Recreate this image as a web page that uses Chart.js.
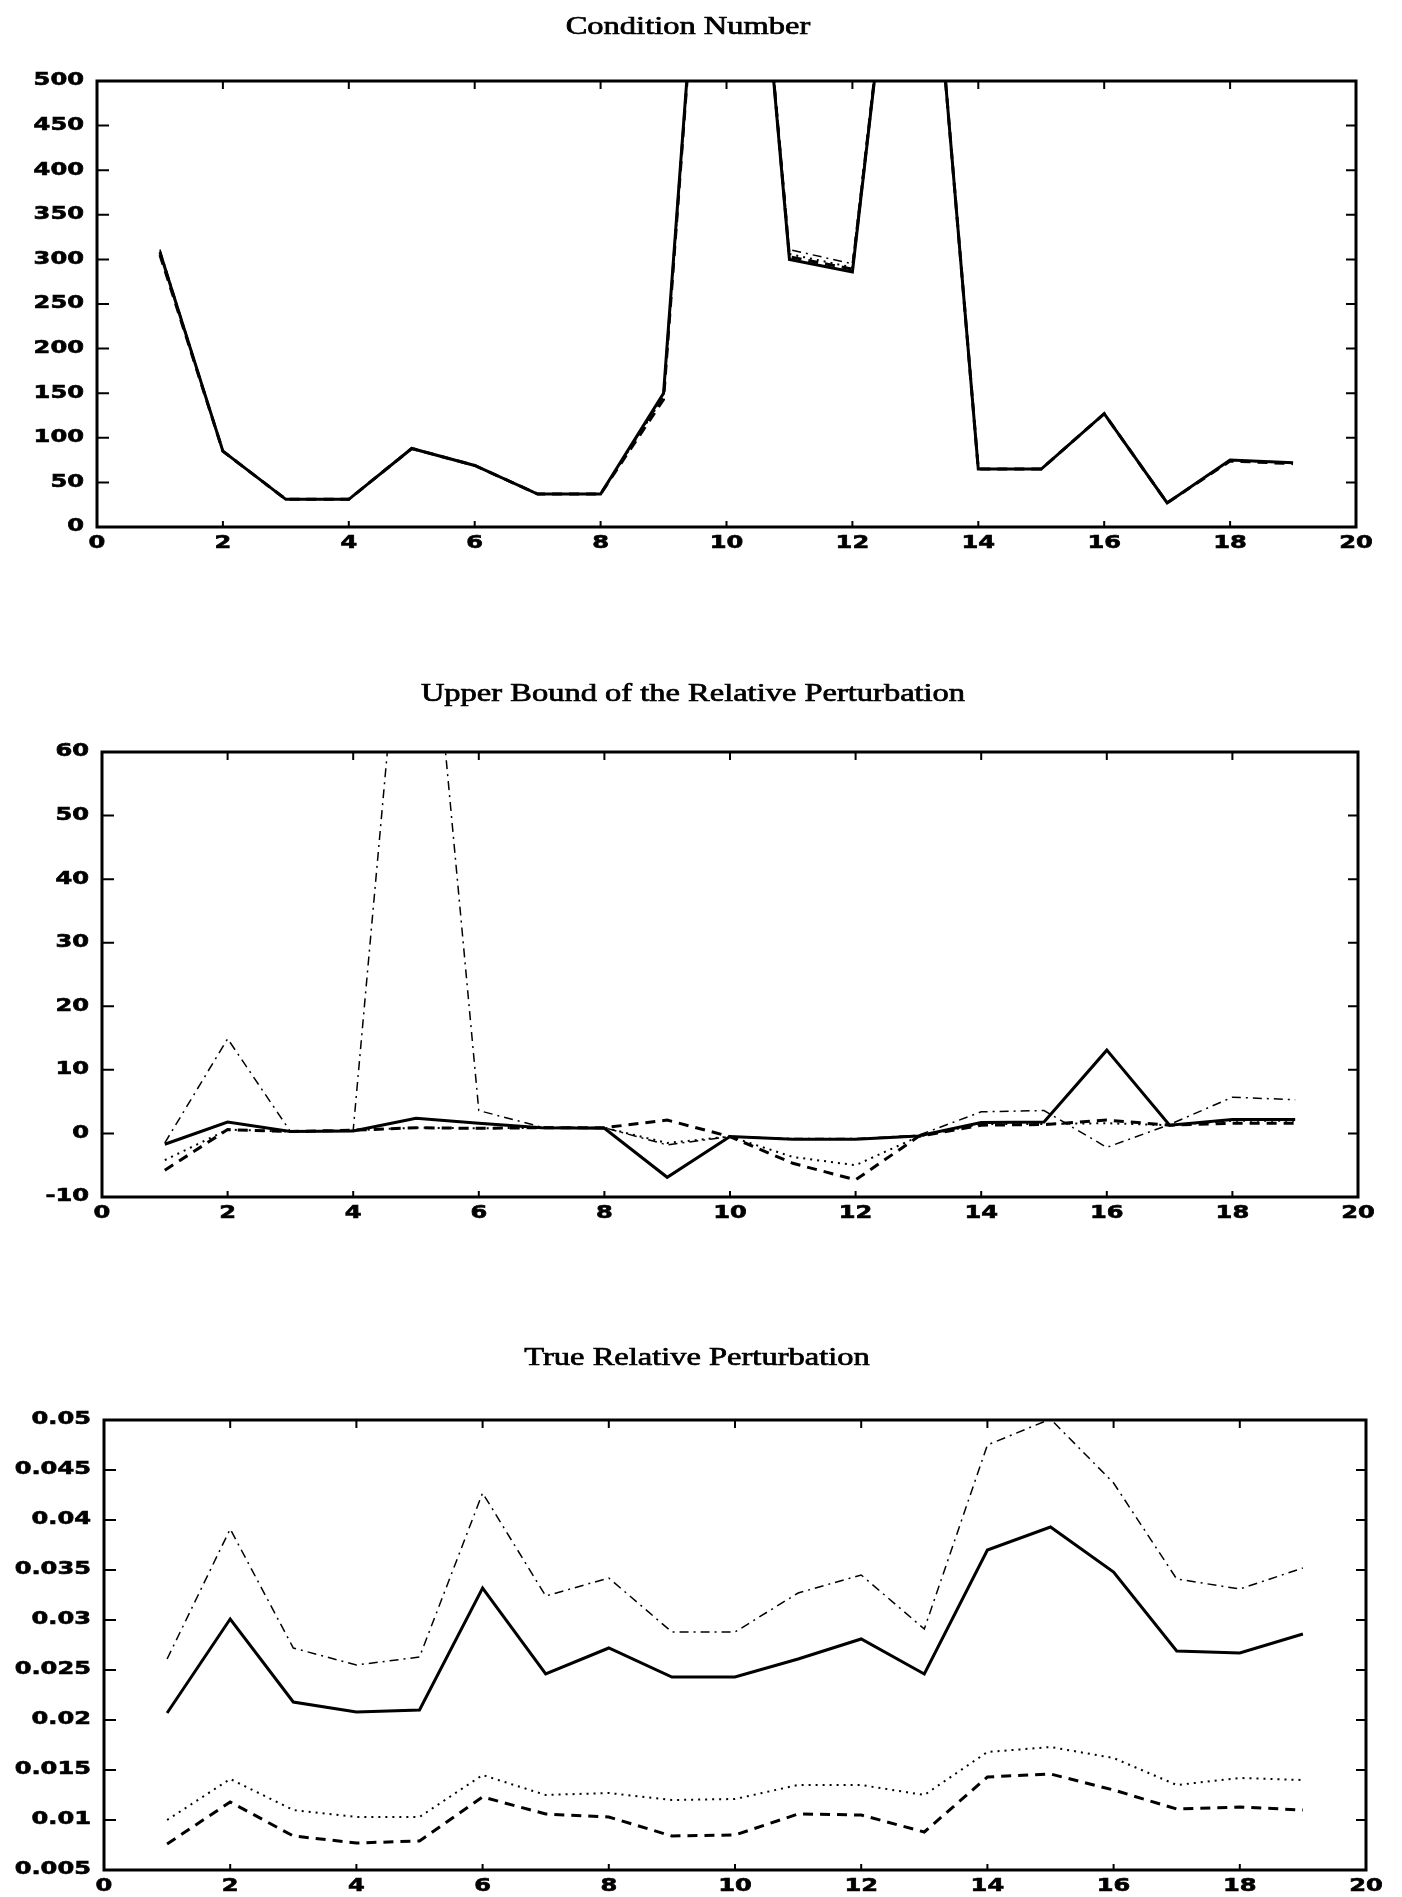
<!DOCTYPE html>
<html>
<head>
<meta charset="utf-8">
<script src="https://cdn.jsdelivr.net/npm/chart.js@4.4.0/dist/chart.umd.min.js"></script>
<style>
  body { margin: 0; background: #fff; }
  canvas { position: absolute; left: 0; }
</style>
</head>
<body>
<canvas id="cond" width="1402" height="570" style="top:0px"></canvas>
<canvas id="bound" width="1402" height="600" style="top:640px"></canvas>
<canvas id="truePert" width="1402" height="577" style="top:1320px"></canvas>
<script>
// sample index, 1..19
const xValues = [1, 2, 3, 4, 5, 6, 7, 8, 9, 10, 11, 12, 13, 14, 15, 16, 17, 18, 19];
const xTicks = [0, 2, 4, 6, 8, 10, 12, 14, 16, 18, 20];

// condition number (values past 500 run off the top)
const condTicks = [0, 50, 100, 150, 200, 250, 300, 350, 400, 450, 500];
const condSolid   = [308, 85, 31, 31, 88, 69, 37, 37, 150, 1100, 300, 286, 900, 65, 65, 127, 27, 75, 72];
const condDashed  = [305, 85, 31, 31, 88, 69, 37, 37, 143, 1100, 303, 289, 900, 65, 65, 127, 27, 74, 71];
const condDotted  = [309, 85, 31, 31, 88, 69, 37, 37, 146, 1100, 306, 291, 900, 65, 65, 127, 27, 75, 72];
const condDashDot = [311, 85, 31, 31, 88, 69, 37, 37, 147, 1100, 311, 295, 900, 65, 65, 127, 27, 75, 72];

// upper bound of the relative perturbation
const boundTicks = [-10, 0, 10, 20, 30, 40, 50, 60];
const boundSolid   = [-1.7, 1.8, 0.3, 0.4, 2.4, 1.6, 0.9, 0.8, -6.9, -0.5, -0.9, -0.9, -0.4, 1.7, 1.8, 13.1, 1.3, 2.2, 2.2];
const boundDashed  = [-5.8, 0.6, 0.3, 0.5, 0.9, 0.8, 0.9, 0.9, 2.1, -0.5, -4.7, -7.3, -0.5, 1.3, 1.4, 2.1, 1.3, 1.6, 1.6];
const boundDotted  = [-4.2, 0.6, 0.3, 0.5, 0.9, 0.8, 0.9, 0.9, -1.5, -0.5, -3.7, -5.0, -0.5, 1.5, 1.5, 1.6, 1.3, 2.0, 2.0];
const boundDashDot = [-1.5, 14.9, 0.3, 0.5, 110, 3.6, 1.0, 0.9, -1.8, -0.5, -0.8, -0.8, -0.3, 3.4, 3.6, -2.2, 1.4, 5.7, 5.3];

// true relative perturbation
const trueTicks = [0.005, 0.01, 0.015, 0.02, 0.025, 0.03, 0.035, 0.04, 0.045, 0.05];
const trueSolid   = [0.0207, 0.0301, 0.0218, 0.0208, 0.0210, 0.0332, 0.0246, 0.0272, 0.0243, 0.0243, 0.0261, 0.0281, 0.0246, 0.0370, 0.0393, 0.0348, 0.0269, 0.0267, 0.0286];
const trueDashed  = [0.0076, 0.0118, 0.0084, 0.0077, 0.0079, 0.0123, 0.0106, 0.0103, 0.0084, 0.0085, 0.0106, 0.0105, 0.0088, 0.0143, 0.0146, 0.0130, 0.0111, 0.0113, 0.0110];
const trueDotted  = [0.0100, 0.0141, 0.0110, 0.0103, 0.0103, 0.0145, 0.0125, 0.0127, 0.0120, 0.0121, 0.0135, 0.0135, 0.0125, 0.0168, 0.0173, 0.0162, 0.0135, 0.0142, 0.0140];
const trueDashDot = [0.0261, 0.0391, 0.0272, 0.0255, 0.0263, 0.0427, 0.0324, 0.0342, 0.0288, 0.0288, 0.0327, 0.0345, 0.0291, 0.0475, 0.0501, 0.0437, 0.0341, 0.0331, 0.0352];

const lineStyles = {
  solid:   { borderWidth: 3,   borderDash: [] },
  dashed:  { borderWidth: 3,   borderDash: [10, 7] },
  dotted:  { borderWidth: 2,   borderDash: [2, 5] },
  dashDot: { borderWidth: 1.5, borderDash: [9, 5, 2, 5] }
};

function series(values, style) {
  return Object.assign({
    data: values.map((v, i) => ({ x: xValues[i], y: v })),
    borderColor: '#000',
    pointRadius: 0,
    tension: 0,
    fill: false
  }, lineStyles[style]);
}

// text widened to the look of the old plotter fonts
function wideText(ctx, text, x, y, align, sx, weight) {
  ctx.save();
  ctx.translate(x, y);
  ctx.scale(sx, 1);
  ctx.textAlign = align;
  ctx.fillText(text, 0, 0);
  if (weight) {
    ctx.lineWidth = weight;
    ctx.strokeText(text, 0, 0);
  }
  ctx.restore();
}

// boxed axes with inward ticks, tick labels and the title
const boxAxes = {
  id: 'boxAxes',
  afterDatasetsDraw(chart, args, opts) {
    const { ctx, chartArea: a, scales: { x, y } } = chart;
    ctx.save();
    ctx.strokeStyle = '#000';
    ctx.fillStyle = '#000';
    ctx.lineWidth = 2;
    ctx.beginPath();
    opts.xTicks.forEach(v => {
      const px = x.getPixelForValue(v);
      ctx.moveTo(px, a.bottom); ctx.lineTo(px, a.bottom - 6);
      ctx.moveTo(px, a.top); ctx.lineTo(px, a.top + 8);
    });
    opts.yTicks.forEach(v => {
      const py = y.getPixelForValue(v);
      ctx.moveTo(a.left, py); ctx.lineTo(a.left + 12, py);
      ctx.moveTo(a.right, py); ctx.lineTo(a.right - 10, py);
    });
    ctx.stroke();
    ctx.lineWidth = 3;
    ctx.strokeRect(a.left, a.top, a.right - a.left, a.bottom - a.top);

    ctx.font = 'bold 17px "DejaVu Sans"';
    ctx.textBaseline = 'top';
    opts.xTicks.forEach(v => wideText(ctx, String(v), x.getPixelForValue(v), a.bottom + 8, 'center', 1.42, 0.6));
    ctx.textBaseline = 'middle';
    opts.yTicks.forEach(v => wideText(ctx, String(v), a.left - 13, y.getPixelForValue(v), 'right', 1.42, 0.6));

    ctx.font = '25px "Liberation Serif"';
    ctx.textBaseline = 'alphabetic';
    wideText(ctx, opts.title, opts.titleX, opts.titleY, 'center', 1.3, 0.7);
    ctx.restore();
  }
};

function plot(id, datasets, yTicks, title, titleX, titleY, padding) {
  return new Chart(id, {
    type: 'line',
    data: { datasets: datasets },
    options: {
      responsive: false,
      animation: false,
      devicePixelRatio: 1,
      layout: { padding: padding, autoPadding: false },
      scales: {
        x: { type: 'linear', min: 0, max: 20, display: false },
        y: { type: 'linear', min: yTicks[0], max: yTicks[yTicks.length - 1], display: false }
      },
      plugins: {
        legend: { display: false },
        tooltip: { enabled: false },
        boxAxes: { xTicks: xTicks, yTicks: yTicks, title: title, titleX: titleX, titleY: titleY }
      }
    },
    plugins: [boxAxes]
  });
}

plot('cond', [
  series(condDashDot, 'dashDot'),
  series(condDotted, 'dotted'),
  series(condDashed, 'dashed'),
  series(condSolid, 'solid')
], condTicks, 'Condition Number', 688, 34, { top: 81, left: 97, right: 46, bottom: 43 });

plot('bound', [
  series(boundDashDot, 'dashDot'),
  series(boundDotted, 'dotted'),
  series(boundDashed, 'dashed'),
  series(boundSolid, 'solid')
], boundTicks, 'Upper Bound of the Relative Perturbation', 693, 61, { top: 112, left: 102, right: 44, bottom: 43 });

plot('truePert', [
  series(trueDashDot, 'dashDot'),
  series(trueDotted, 'dotted'),
  series(trueDashed, 'dashed'),
  series(trueSolid, 'solid')
], trueTicks, 'True Relative Perturbation', 697, 45, { top: 100, left: 104, right: 36, bottom: 27 });
</script>
</body>
</html>
